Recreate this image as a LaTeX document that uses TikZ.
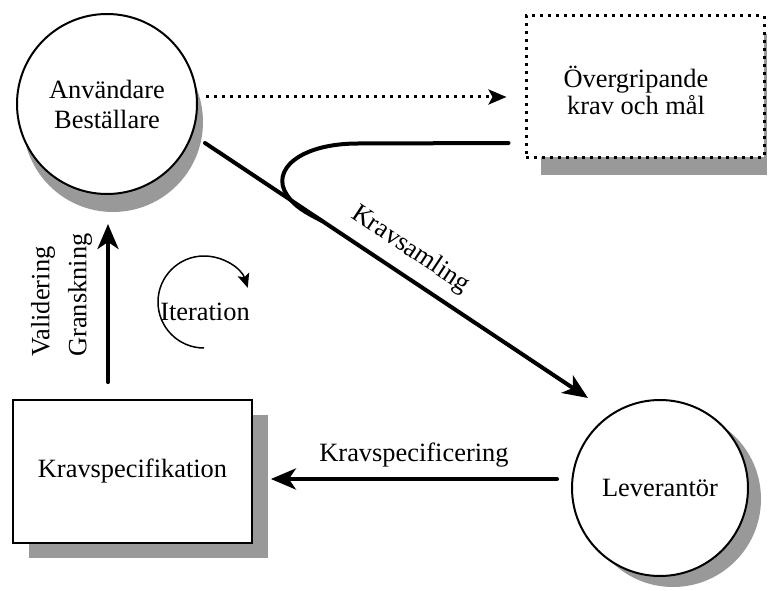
\documentclass[tikz,border=0pt]{standalone}
\usepackage{fontspec}
\setmainfont{Liberation Serif}
\usetikzlibrary{arrows.meta,calc}
\definecolor{shadowgray}{RGB}{153,153,153}
\begin{document}
\begin{tikzpicture}[x=1pt,y=1pt,
  txt/.style={font=\fontsize{26.4}{29}\selectfont},
  circ/.style={circle, draw, line width=2pt, fill=white, align=center, inner sep=0pt, txt},
  plainbox/.style={rectangle, draw, line width=1.8pt, fill=white, inner sep=0pt, txt},
  dotbox/.style={rectangle, draw, line width=3pt, dash pattern=on 3pt off 5pt, fill=white, inner sep=0pt},
  flow/.style={line width=4pt, line cap=round},
  bigtip/.style={-{Stealth[length=25pt,width=21pt,inset=7pt]}},
  dotflow/.style={line width=3pt, dash pattern=on 3pt off 5pt, -{Stealth[length=18pt,width=15pt,inset=4pt]}},
  dropshadow/.style={fill=shadowgray, draw=none},
]
\useasboundingbox (0,0) rectangle (768,-591);

% drop shadows
\path[dropshadow] (113,-122) circle[radius=90];
\path[dropshadow] (673,-499) circle[radius=88];
\path[dropshadow] (541,-34) rectangle (767,-175);
\path[dropshadow] (29,-415) rectangle (268,-558);

% main elements
\node[circ, minimum size=180pt, font=\fontsize{26.4}{30}\selectfont] (anv) at (107,-104) {Användare\\Beställare};
\node[circ, minimum size=176pt] (lev) at (660,-488) {Leverantör};
\node[plainbox, minimum width=239pt, minimum height=143pt] (krs) at (132.5,-471.5) {Kravspecifikation};
\node[dotbox, minimum width=238pt, minimum height=141pt] (ovg) at (645,-86.5) {};
\node[txt, align=center, font=\fontsize{26.4}{27}\selectfont] (ovgtxt) at (636,-90) {Övergripande\\krav och mål};

% connectors
\draw[dotflow] ($(anv.east)+(8,7)$) -- ($(ovg.west)+(-18,-10.5)$);

\draw[flow, bigtip] ($(anv.center)+(98,-39)$)
  -- node[sloped, above=11pt, inner sep=0pt, txt] (ksaml) {Kravsamling}
  ($(lev.center)+(-72,90)$);

\draw[flow] ($(ovg.west)+(-16,-56.5)$) -- (358,-143.5)
  .. controls (300,-143.5) and (270,-170) .. (287,-195)
  .. controls (295,-207) and (305,-212) .. (322,-221);

\draw[flow, bigtip] ($(lev.west)+(-14,9)$)
  -- node[above=10pt, inner sep=0pt, txt] (kspec) {Kravspecificering}
  ($(krs.east)+(18,-7.5)$);

\draw[flow, bigtip] ($(krs.north)+(-24.5,17)$) -- ($(anv.south)+(1,-29)$);

\node[rotate=90, align=left, font=\fontsize{26.4}{37}\selectfont] (valg) at (61.5,-295) {Validering\\Granskning};

% iteration loop
\node[txt] (iter) at (205,-312) {Iteration};
\draw[line width=1.5pt, -{Stealth[length=14pt,width=12pt,inset=3pt]}]
  ($(iter.center)+(-1,-36)$) arc[start angle=270, end angle=18, radius=46];
\end{tikzpicture}
\end{document}
